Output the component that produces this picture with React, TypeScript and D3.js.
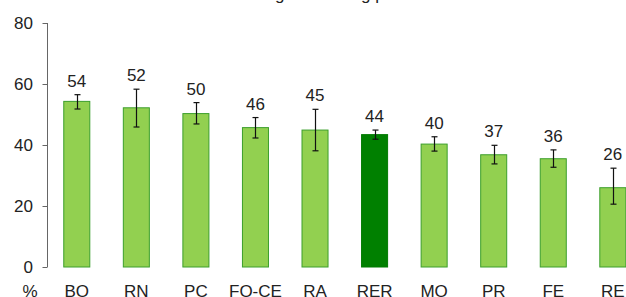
import React, { useEffect, useRef } from 'react';
import * as d3 from 'd3';

// Data
const categories = ['BO', 'RN', 'PC', 'FO-CE', 'RA', 'RER', 'MO', 'PR', 'FE', 'RE'];
const values = [54.3, 52.2, 50.3, 45.7, 44.9, 43.4, 40.3, 36.8, 35.5, 26.0];
const labels = ['54', '52', '50', '46', '45', '44', '40', '37', '36', '26'];
const errLow = [51.8, 45.9, 46.9, 42.3, 38.1, 41.9, 38.0, 33.8, 32.7, 20.6];
const errHigh = [56.5, 58.3, 53.9, 49.0, 51.7, 44.9, 42.7, 39.9, 38.4, 32.4];
const yTicks = [0, 20, 40, 60, 80];
const highlight = 'RER';
const title = 'Adesione agli screening per Azienda USL';

const W = 626;
const H = 297;
const FONT = '"Liberation Sans", Arial, sans-serif';

const App: React.FC = () => {
  const svgRef = useRef<SVGSVGElement>(null);

  useEffect(() => {
    if (!svgRef.current) return;
    const svg = d3.select(svgRef.current);
    svg.selectAll('*').remove();

    const y = d3.scaleLinear().domain([0, 80]).range([267, 23]);
    const p = 0.563;
    const x = d3.scaleBand<string>()
      .domain(categories)
      .range([47, 47 + 10 * 59.56])
      .paddingInner(p)
      .paddingOuter(p / 2);

    // title, mostly cut off at the top
    svg.append('text')
      .attr('x', 190)
      .attr('y', -0.5)
      .style('font-family', FONT)
      .style('font-size', '17px')
      .style('fill', '#222')
      .text(title);

    // y axis
    const axis = svg.append('g');
    axis.append('line')
      .attr('x1', 47.5).attr('x2', 47.5)
      .attr('y1', y(80)).attr('y2', y(0))
      .style('stroke', '#666').style('stroke-width', 1);
    axis.selectAll('.tick')
      .data(yTicks)
      .enter().append('line')
      .attr('x1', 42.5).attr('x2', 47.5)
      .attr('y1', d => Math.round(y(d)) + 0.5)
      .attr('y2', d => Math.round(y(d)) + 0.5)
      .style('stroke', '#666').style('stroke-width', 1);
    axis.selectAll('.tlabel')
      .data(yTicks)
      .enter().append('text')
      .attr('x', 33)
      .attr('y', d => y(d))
      .attr('dy', '0.35em')
      .attr('text-anchor', 'end')
      .style('font-family', FONT)
      .style('font-size', '17px')
      .style('fill', '#222')
      .text(d => d);

    // bars
    svg.selectAll('.bar')
      .data(categories)
      .enter().append('rect')
      .attr('x', d => x(d)!)
      .attr('y', (_, i) => y(values[i]))
      .attr('width', x.bandwidth())
      .attr('height', (_, i) => y(0) - y(values[i]))
      .style('fill', d => d === highlight ? '#008000' : '#92d050')
      .style('stroke', d => d === highlight ? '#007a00' : '#3c9f2c')
      .style('stroke-width', 1);

    // error bars
    const eb = svg.selectAll('.err')
      .data(categories)
      .enter().append('g')
      .attr('transform', d => `translate(${Math.round(x(d)! + x.bandwidth() / 2) + 0.5},0)`);
    eb.append('line')
      .attr('y1', (_, i) => y(errLow[i]))
      .attr('y2', (_, i) => y(errHigh[i]))
      .style('stroke', '#111').style('stroke-width', 1.2);
    eb.append('line')
      .attr('x1', -3).attr('x2', 3)
      .attr('y1', (_, i) => y(errLow[i]))
      .attr('y2', (_, i) => y(errLow[i]))
      .style('stroke', '#111').style('stroke-width', 1.2);
    eb.append('line')
      .attr('x1', -3).attr('x2', 3)
      .attr('y1', (_, i) => y(errHigh[i]))
      .attr('y2', (_, i) => y(errHigh[i]))
      .style('stroke', '#111').style('stroke-width', 1.2);

    // value labels
    svg.selectAll('.vlabel')
      .data(categories)
      .enter().append('text')
      .attr('x', d => x(d)! + x.bandwidth() / 2)
      .attr('y', (_, i) => y(errHigh[i]) - 8)
      .attr('text-anchor', 'middle')
      .style('font-family', FONT)
      .style('font-size', '17px')
      .style('fill', '#222')
      .text((_, i) => labels[i]);

    // category labels
    svg.selectAll('.clabel')
      .data(categories)
      .enter().append('text')
      .attr('x', d => x(d)! + x.bandwidth() / 2)
      .attr('y', 296.5)
      .attr('text-anchor', 'middle')
      .style('font-family', FONT)
      .style('font-size', '17px')
      .style('fill', '#222')
      .text(d => d);

    svg.append('text')
      .attr('x', 30)
      .attr('y', 296.5)
      .attr('text-anchor', 'middle')
      .style('font-family', FONT)
      .style('font-size', '17px')
      .style('fill', '#222')
      .text('%');
  }, []);

  return (
    <svg
      ref={svgRef}
      width={W}
      height={H}
      style={{ position: 'absolute', left: 0, top: 0, display: 'block', background: '#fff' }}
    />
  );
};

export default App;
